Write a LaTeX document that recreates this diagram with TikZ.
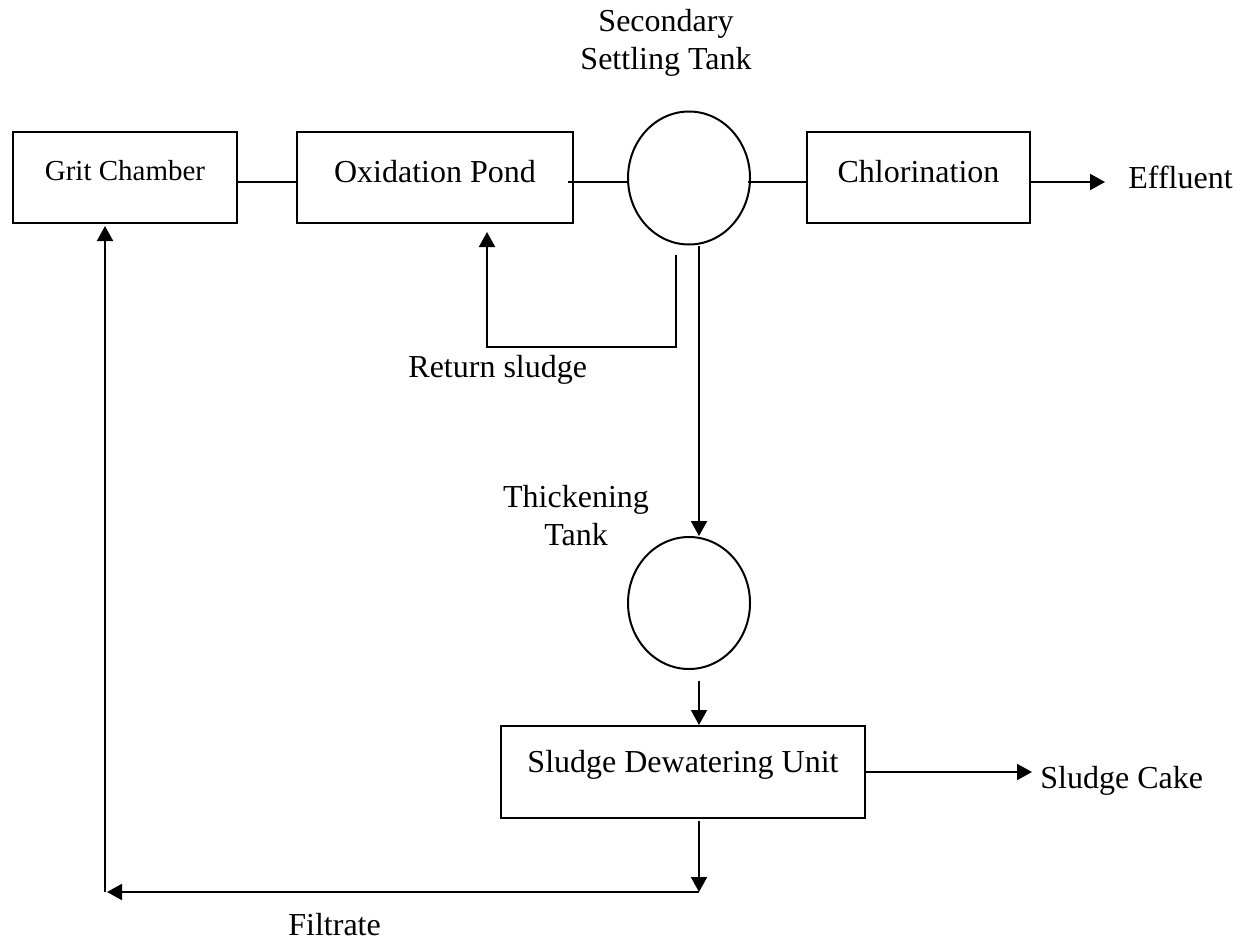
\documentclass[tikz,border=0pt]{standalone}
\usepackage{fontspec}
\setmainfont{Liberation Serif}
\usetikzlibrary{arrows.meta,calc,shapes.geometric}
\begin{document}
\begin{tikzpicture}[x=0.5pt,y=-0.5pt,
  every node/.style={font=\fontsize{16}{19}\selectfont},
  unit/.style={draw, line width=1pt, rectangle, minimum height=45.5pt, inner sep=0pt},
  tank/.style={draw, line width=1pt, ellipse, minimum width=61pt, inner sep=0pt},
  title/.style={anchor=base, inner sep=0pt},
  tag/.style={anchor=base west, inner sep=0pt},
  pipe/.style={line width=1pt},
  flow/.style={pipe, -{Triangle[length=7.5pt,width=8pt]}}
]
\useasboundingbox (0,0) rectangle (1240,942);

% process units
\node[unit, minimum width=112pt,
  label={[title, yshift=3.25pt, font=\fontsize{14.5}{17}\selectfont]center:Grit Chamber}] (grit) at (125,177.5) {};
\node[unit, minimum width=138pt,
  label={[title, yshift=2.75pt]center:Oxidation Pond}] (oxid) at (435,177.5) {};
\node[tank, minimum height=66.5pt] (sst) at (689,178) {};
\node[unit, minimum width=111.5pt,
  label={[title, yshift=2.75pt]center:Chlorination}] (chlor) at (918.5,177.5) {};
\node[tank, minimum height=66pt] (thick) at (689,603) {};
\node[unit, minimum width=182pt, minimum height=46pt,
  label={[title, yshift=3.5pt]center:Sludge Dewatering Unit}] (dew) at (683,772) {};

% labels
\node[align=center] (sstT) at (666,43) {Secondary\\Settling Tank};
\node[align=center] (thkT) at (576,516) {Thickening\\Tank};
\node[tag] (effl) at (1128,188) {Effluent};
\node[tag] (rsT) at (408,377) {Return sludge};
\node[tag] (cake) at (1040,788) {Sludge Cake};
\node[tag] (filt) at (288,935) {Filtrate};

% reference lines for the pipework
\coordinate (main) at (0,182);
\coordinate (col) at (699,0);
\coordinate (back) at (105,892);
\coordinate (rsl) at (487,347);

% main flow line
\draw[pipe] (grit.east |- main) -- (oxid.west |- main);
\draw[pipe] ($(oxid.east |- main)+(-6,0)$) -- (sst.west |- main);
\draw[pipe] ($(sst.east |- main)+(-3,0)$) -- (chlor.west |- main);
\draw[flow] (chlor.east |- main) -- ($(effl.west |- main)+(-23,0)$);

% return sludge
\draw[flow] ($(sst.south)+(-13,9)$) |- (rsl) -- ($(oxid.south -| rsl)+(0,8)$);

% sludge line
\draw[flow] (sst.south -| col) -- (thick.north -| col);
\draw[flow] ($(thick.south -| col)+(0,11)$) -- (dew.north -| col);
\draw[flow] (dew.east) -- ($(cake.west |- dew.east)+(-8,0)$);

% filtrate back to the grit chamber
\draw[flow] ($(dew.south -| col)+(0,2)$) -- (col |- back);
\draw[flow] (col |- back) -- ($(back)+(2,0)$);
\draw[flow] (back) -- ($(grit.south -| back)+(0,2)$);
\end{tikzpicture}
\end{document}
